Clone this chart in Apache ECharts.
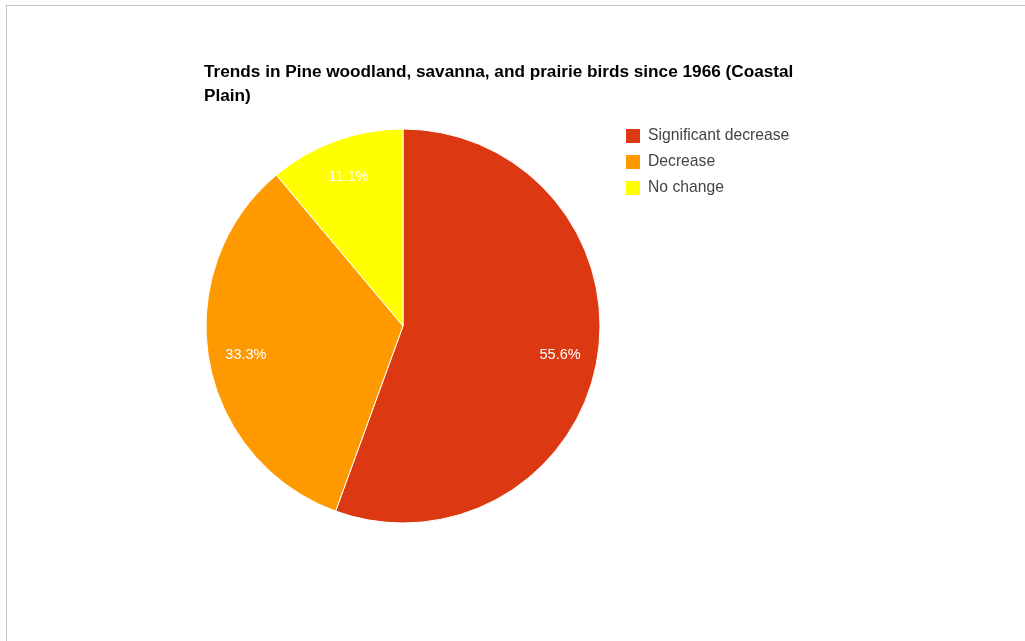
<!DOCTYPE html>
<html>
<head>
<meta charset="utf-8">
<script src="https://cdn.jsdelivr.net/npm/echarts@6/dist/echarts.min.js"></script>
<style>
  html, body { margin: 0; padding: 0; background: #fff; }
  #frame { position: absolute; left: 6px; top: 5px; width: 1019px; height: 636px;
           border-top: 1px solid #c4c4c4; border-left: 1px solid #c4c4c4; box-sizing: border-box; }
  #chart { position: absolute; left: 0; top: 0; width: 1025px; height: 641px; }
</style>
</head>
<body>
<div id="frame"></div>
<div id="chart"></div>
<script>
// Trend categories and number of species in each
const categories = ['Significant decrease', 'Decrease', 'No change'];
const speciesCounts = [5, 3, 1];
const sliceColors = ['#DC3912', '#FF9900', '#FFFF00'];
const titleLines = ['Trends in Pine woodland, savanna, and prairie birds since 1966 (Coastal', 'Plain)'];

const font = "Arial, 'Liberation Sans', sans-serif";
const pieData = categories.map((name, i) => ({
  name, value: speciesCounts[i], itemStyle: { color: sliceColors[i] }
}));

const chart = echarts.init(document.getElementById('chart'), null, { renderer: 'canvas' });
chart.setOption({
  animation: false,
  title: {
    text: titleLines.join('\n'),
    left: 204, top: 60, padding: 0,
    textStyle: {
      fontFamily: font, fontSize: 17.2, fontWeight: 'bold', color: '#000', lineHeight: 24
    }
  },
  legend: {
    orient: 'vertical', left: 626, top: 128, padding: 0,
    icon: 'rect', itemWidth: 14, itemHeight: 14, itemGap: 10,
    itemStyle: { borderWidth: 0 },
    data: categories,
    textStyle: { fontFamily: font, fontSize: 15.7, color: '#444', padding: [0, 0, 0, 3] }
  },
  series: [
    {
      type: 'pie', center: [403, 326], radius: 197, startAngle: 90, clockwise: true,
      data: pieData,
      label: { show: false }, labelLine: { show: false },
      itemStyle: { borderColor: '#fff', borderWidth: 1 },
      emphasis: { disabled: true }
    },
    {
      // ring used only to place the percentage labels at 4/5 of the radius
      type: 'pie', center: [403, 327], radius: [116, 197], startAngle: 90, clockwise: true,
      data: pieData.map(d => ({ name: d.name, value: d.value, itemStyle: { color: 'rgba(0,0,0,0)' } })),
      silent: true,
      legendHoverLink: false,
      label: {
        show: true, position: 'inside', color: '#fff',
        fontFamily: font, fontSize: 14.5, textBorderWidth: 0, textShadowBlur: 0,
        formatter: p => p.percent.toFixed(1) + '%'
      },
      labelLine: { show: false },
      emphasis: { disabled: true }
    }
  ]
});
</script>
</body>
</html>
